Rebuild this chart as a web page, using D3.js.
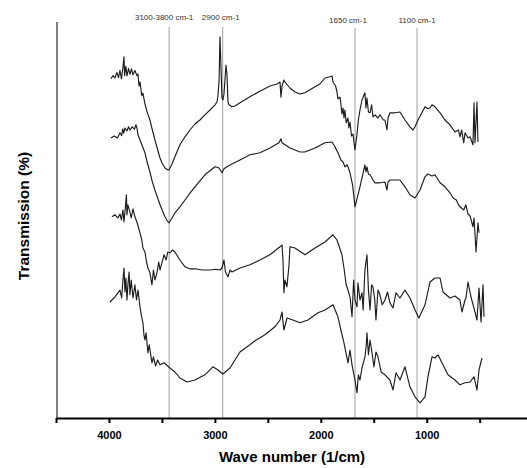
<!DOCTYPE html>
<html><head><meta charset="utf-8">
<script src="https://cdn.jsdelivr.net/npm/d3@7"></script>
<style>body{margin:0;background:#fff}svg{display:block}</style>
</head><body>
<svg id="chart" width="527" height="468"></svg>
<script>
// ---- data: [wave number (1/cm), transmission (arbitrary %, stacked)] ----
const spectrumA = [[3981,84.8],[3962,85.6],[3943,85.0],[3925,86.4],[3910,85.1],[3896,86.9],[3882,84.8],[3868,87.6],[3858,90.3],[3852,85.6],[3840,87.9],[3830,85.5],[3815,87.4],[3802,85.9],[3787,87.3],[3773,85.8],[3755,86.9],[3736,85.6],[3726,86.0],[3716,83.0],[3707,84.0],[3690,80.6],[3679,81.2],[3660,78.5],[3645,77.0],[3632,75.9],[3613,74.5],[3595,72.5],[3580,71.0],[3566,69.5],[3545,67.5],[3518,65.0],[3500,63.8],[3471,62.5],[3443,62.0],[3433,62.0],[3405,63.5],[3377,65.3],[3330,68.3],[3282,70.3],[3235,72.0],[3188,73.5],[3141,74.5],[3094,75.8],[3046,77.0],[2999,78.3],[2980,79.0],[2971,80.5],[2960,84.5],[2952,95.3],[2945,90.0],[2933,80.0],[2924,79.5],[2914,81.0],[2895,88.2],[2886,86.0],[2876,79.0],[2867,78.3],[2839,77.8],[2810,78.0],[2763,78.8],[2669,80.3],[2574,81.7],[2480,83.0],[2414,83.5],[2395,83.8],[2385,84.0],[2376,80.2],[2366,83.0],[2348,84.5],[2338,84.0],[2291,82.5],[2244,81.5],[2196,81.0],[2149,81.3],[2055,82.8],[2008,83.5],[1960,85.0],[1913,85.3],[1894,85.5],[1885,84.0],[1860,83.0],[1847,81.5],[1838,79.8],[1819,80.2],[1810,78.5],[1800,76.0],[1790,77.5],[1781,75.0],[1772,77.0],[1760,73.8],[1743,75.0],[1735,72.5],[1724,74.0],[1710,70.5],[1696,71.0],[1677,67.0],[1658,71.0],[1645,74.5],[1630,77.0],[1611,79.5],[1583,81.3],[1573,77.5],[1564,80.0],[1550,76.5],[1535,76.3],[1520,78.3],[1507,75.3],[1488,75.8],[1460,75.0],[1441,75.8],[1410,74.5],[1394,74.5],[1375,72.0],[1365,75.0],[1347,76.3],[1300,76.3],[1252,76.5],[1205,74.5],[1158,72.8],[1130,72.0],[1110,72.8],[1082,74.5],[1016,77.8],[988,77.3],[969,77.5],[950,78.3],[922,77.8],[874,76.3],[827,74.5],[780,73.3],[733,71.5],[700,72.0],[686,70.3],[670,72.0],[650,68.8],[638,71.3],[610,70.0],[591,70.3],[563,68.3],[553,78.8],[544,68.8],[525,79.0],[516,69.0]];

const spectrumB = [[3981,70.0],[3950,70.5],[3920,70.0],[3896,71.3],[3880,70.6],[3870,72.3],[3860,71.2],[3849,72.5],[3830,71.8],[3815,72.8],[3802,72.0],[3780,72.8],[3760,72.2],[3745,73.3],[3736,72.5],[3726,70.8],[3707,69.5],[3685,68.0],[3660,66.3],[3635,63.5],[3613,61.5],[3590,59.0],[3566,57.0],[3540,55.0],[3518,53.3],[3495,51.8],[3471,50.3],[3450,49.3],[3433,48.8],[3405,50.0],[3377,51.3],[3330,52.8],[3282,54.5],[3235,56.2],[3188,57.8],[3141,59.3],[3094,60.8],[3046,61.8],[2999,62.8],[2960,62.5],[2933,61.3],[2914,62.3],[2886,62.8],[2830,63.6],[2763,64.5],[2669,65.8],[2574,66.3],[2480,67.5],[2395,68.8],[2376,69.8],[2366,68.8],[2291,67.5],[2196,66.5],[2149,66.5],[2055,67.5],[1960,68.8],[1894,69.0],[1870,68.0],[1838,66.3],[1810,64.5],[1790,64.0],[1772,62.8],[1750,63.3],[1724,61.3],[1700,58.3],[1677,52.8],[1649,55.8],[1630,57.8],[1583,63.3],[1573,61.5],[1564,62.8],[1550,61.0],[1535,60.8],[1507,59.5],[1488,58.8],[1441,58.8],[1394,59.0],[1375,57.0],[1365,59.0],[1347,59.5],[1252,59.5],[1205,57.8],[1158,55.8],[1110,55.0],[1063,57.0],[1016,60.3],[988,61.0],[950,60.5],[922,60.8],[874,58.8],[827,57.8],[780,56.3],[750,55.0],[720,54.5],[700,53.3],[686,52.8],[650,52.0],[630,53.3],[610,51.0],[590,50.5],[563,47.8],[553,50.0],[534,41.5],[516,48.8],[506,46.3]];

const spectrumC = [[3972,50.3],[3943,50.8],[3915,50.0],[3896,51.0],[3882,49.5],[3868,52.0],[3858,49.0],[3849,51.5],[3835,55.8],[3830,50.8],[3821,53.3],[3802,51.5],[3790,50.0],[3773,52.3],[3755,50.3],[3736,49.0],[3707,46.3],[3690,44.5],[3679,42.5],[3660,41.5],[3645,39.0],[3632,37.5],[3613,36.3],[3594,33.3],[3580,37.0],[3566,34.5],[3547,36.3],[3530,39.0],[3518,37.0],[3500,38.8],[3480,40.8],[3460,39.5],[3445,41.5],[3424,41.3],[3400,42.0],[3377,41.5],[3330,39.5],[3282,37.8],[3240,37.3],[3188,37.3],[3120,37.0],[3046,37.0],[2990,37.2],[2952,37.0],[2933,37.5],[2914,39.5],[2900,36.5],[2876,35.3],[2857,37.0],[2839,36.5],[2763,37.5],[2669,38.3],[2574,39.5],[2480,40.8],[2385,42.8],[2366,43.3],[2357,39.5],[2348,31.3],[2338,34.5],[2319,32.8],[2300,38.3],[2291,42.8],[2244,42.5],[2149,40.8],[2055,42.5],[1960,44.0],[1885,45.8],[1847,44.5],[1800,40.8],[1781,37.5],[1760,33.3],[1743,32.0],[1724,30.3],[1705,25.3],[1690,34.5],[1677,29.5],[1658,27.8],[1649,33.8],[1630,29.5],[1611,31.3],[1600,27.0],[1583,37.0],[1564,40.8],[1550,32.0],[1535,27.0],[1520,33.3],[1507,32.8],[1490,29.5],[1479,24.5],[1460,32.0],[1441,30.8],[1420,28.3],[1394,29.5],[1370,31.5],[1347,28.8],[1318,27.5],[1290,31.3],[1252,30.0],[1205,32.0],[1158,30.0],[1110,27.0],[1073,25.0],[1016,28.3],[969,34.0],[922,35.0],[874,35.0],[846,31.5],[780,30.0],[733,30.5],[686,29.5],[667,26.5],[638,29.5],[629,30.0],[610,34.0],[582,30.3],[544,26.5],[525,24.5],[506,32.5],[487,24.0],[468,33.3],[459,25.3]];

const spectrumD = [[3990,29.0],[3943,30.3],[3915,31.3],[3896,32.0],[3880,30.0],[3868,34.5],[3858,37.5],[3849,31.5],[3840,35.0],[3830,29.5],[3821,33.3],[3810,36.5],[3802,30.8],[3790,34.5],[3773,30.0],[3755,33.3],[3740,29.5],[3726,32.0],[3707,27.8],[3695,25.8],[3679,23.8],[3670,20.8],[3660,19.5],[3650,21.3],[3632,16.3],[3620,18.3],[3594,13.8],[3580,15.3],[3560,13.0],[3540,14.5],[3518,13.3],[3480,13.8],[3424,12.5],[3377,11.5],[3330,10.0],[3263,9.0],[3188,9.5],[3094,10.8],[3018,12.8],[2971,12.0],[2924,11.0],[2857,12.5],[2810,14.5],[2763,16.5],[2669,18.3],[2621,19.3],[2527,20.8],[2433,22.8],[2385,24.5],[2366,26.5],[2357,24.0],[2348,22.0],[2319,25.0],[2263,24.5],[2196,23.8],[2121,24.5],[2026,26.3],[1960,27.0],[1885,28.3],[1838,25.3],[1810,22.0],[1781,18.8],[1743,13.8],[1724,17.0],[1705,13.3],[1696,12.0],[1677,9.5],[1658,6.3],[1645,10.8],[1630,9.5],[1611,12.5],[1583,15.3],[1570,18.3],[1564,21.3],[1550,15.8],[1535,19.5],[1520,17.0],[1498,12.8],[1479,16.5],[1460,15.3],[1430,11.5],[1394,10.8],[1347,9.5],[1318,7.0],[1290,11.3],[1252,9.5],[1205,12.8],[1158,7.8],[1110,5.3],[1063,3.8],[1016,5.3],[988,10.3],[950,15.3],[922,15.0],[893,15.8],[856,13.8],[799,10.8],[733,9.5],[686,8.3],[638,8.8],[591,9.0],[553,10.3],[525,7.0],[506,12.0],[478,15.0]];

const markerValues = [3432, 2926, 1677, 1091];
const markerLabels = ["3100-3800 cm-1", "2900 cm-1", "1650 cm-1", "1100 cm-1"];
const xTickValues = [4500, 4000, 3500, 3000, 2500, 2000, 1500, 1000, 500];
const xTickLabels = ["", "4000", "", "3000", "", "2000", "", "1000", ""];
const xTitle = "Wave number (1/cm)";
const yTitle = "Transmission (%)";

// ---- drawing ----
const svg = d3.select("#chart");
const x = d3.scaleLinear().domain([4500, 0]).range([56, 532.6]);
const y = d3.scaleLinear().domain([0, 100]).range([418, 18]);

// marker lines
const mk = svg.append("g");
markerValues.forEach((v, i) => {
  mk.append("line").attr("x1", x(v)).attr("x2", x(v))
    .attr("y1", i < 2 ? 27 : 28).attr("y2", y(0))
    .attr("stroke", "#a0a0a0").attr("stroke-width", 1);
});
const labelOffsets = [-5, -2, -7, 0];
const labelY = [20, 20, 23, 23];
markerLabels.forEach((t, i) => {
  mk.append("text").attr("x", x(markerValues[i]) + labelOffsets[i]).attr("y", labelY[i])
    .attr("text-anchor", "middle").attr("font-family", "Liberation Sans, Arial, sans-serif")
    .attr("font-size", 8).attr("fill", "#333").text(t);
});

// spectra
const line = d3.line().x(d => x(d[0])).y(d => y(d[1]));
[spectrumA, spectrumB, spectrumC, spectrumD].forEach(s => {
  svg.append("path").datum(s).attr("d", line)
    .attr("fill", "none").attr("stroke", "#1c1c1c").attr("stroke-width", 1.15)
    .attr("stroke-linejoin", "round");
});

// y axis line (no ticks)
svg.append("line").attr("x1", 57).attr("x2", 57).attr("y1", 22).attr("y2", y(0))
  .attr("stroke", "#555").attr("stroke-width", 1.5);

// x axis
const xAxis = d3.axisBottom(x).tickValues(xTickValues).tickSize(5).tickSizeOuter(0).tickPadding(8)
  .tickFormat((d, i) => xTickLabels[i]);
const gx = svg.append("g").attr("transform", `translate(0,${y(0)})`).call(xAxis);
gx.select(".domain").attr("stroke", "#000").attr("stroke-width", 2);
gx.selectAll(".tick line").attr("stroke", "#000").attr("stroke-width", 2);
gx.selectAll(".tick text").attr("font-family", "Liberation Sans, Arial, sans-serif")
  .attr("font-weight", "bold").attr("font-size", 11).attr("fill", "#000");

// titles
svg.append("text").attr("x", 292).attr("y", 462).attr("text-anchor", "middle")
  .attr("font-family", "Liberation Sans, Arial, sans-serif").attr("font-weight", "bold")
  .attr("font-size", 15).attr("fill", "#000").text(xTitle);
svg.append("text").attr("transform", "translate(29,216) rotate(-90)").attr("text-anchor", "middle")
  .attr("font-family", "Liberation Sans, Arial, sans-serif").attr("font-weight", "bold")
  .attr("font-size", 15.5).attr("fill", "#000").text(yTitle);
</script>
</body></html>
